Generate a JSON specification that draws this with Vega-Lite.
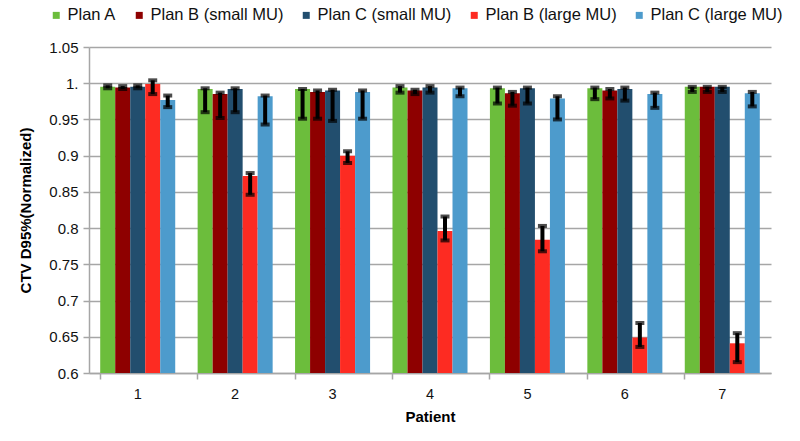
{
  "$schema": "https://vega.github.io/schema/vega-lite/v6.json",
  "width": 682,
  "height": 326,
  "autosize": {"type": "none"},
  "padding": {"left": 89, "top": 47, "right": 29, "bottom": 68},
  "background": "white",
  "config": {"view": {"stroke": null}, "font": "Liberation Sans"},
  "data": {"values": [
    {"patient": "1", "plan": "Plan A", "value": 0.995, "lo": 0.993, "hi": 0.997},
    {"patient": "1", "plan": "Plan B (small MU)", "value": 0.994, "lo": 0.992, "hi": 0.996},
    {"patient": "1", "plan": "Plan C (small MU)", "value": 0.995, "lo": 0.993, "hi": 0.997},
    {"patient": "1", "plan": "Plan B (large MU)", "value": 0.999, "lo": 0.985, "hi": 1.004},
    {"patient": "1", "plan": "Plan C (large MU)", "value": 0.977, "lo": 0.967, "hi": 0.983},
    {"patient": "2", "plan": "Plan A", "value": 0.992, "lo": 0.960, "hi": 0.993},
    {"patient": "2", "plan": "Plan B (small MU)", "value": 0.985, "lo": 0.952, "hi": 0.987},
    {"patient": "2", "plan": "Plan C (small MU)", "value": 0.992, "lo": 0.960, "hi": 0.993},
    {"patient": "2", "plan": "Plan B (large MU)", "value": 0.872, "lo": 0.846, "hi": 0.876},
    {"patient": "2", "plan": "Plan C (large MU)", "value": 0.982, "lo": 0.943, "hi": 0.983},
    {"patient": "3", "plan": "Plan A", "value": 0.992, "lo": 0.951, "hi": 0.992},
    {"patient": "3", "plan": "Plan B (small MU)", "value": 0.988, "lo": 0.951, "hi": 0.990},
    {"patient": "3", "plan": "Plan C (small MU)", "value": 0.990, "lo": 0.948, "hi": 0.991},
    {"patient": "3", "plan": "Plan B (large MU)", "value": 0.900, "lo": 0.890, "hi": 0.906},
    {"patient": "3", "plan": "Plan C (large MU)", "value": 0.988, "lo": 0.951, "hi": 0.990},
    {"patient": "4", "plan": "Plan A", "value": 0.994, "lo": 0.987, "hi": 0.996},
    {"patient": "4", "plan": "Plan B (small MU)", "value": 0.990, "lo": 0.985, "hi": 0.991},
    {"patient": "4", "plan": "Plan C (small MU)", "value": 0.994, "lo": 0.987, "hi": 0.996},
    {"patient": "4", "plan": "Plan B (large MU)", "value": 0.796, "lo": 0.783, "hi": 0.816},
    {"patient": "4", "plan": "Plan C (large MU)", "value": 0.993, "lo": 0.982, "hi": 0.994},
    {"patient": "5", "plan": "Plan A", "value": 0.993, "lo": 0.972, "hi": 0.994},
    {"patient": "5", "plan": "Plan B (small MU)", "value": 0.986, "lo": 0.969, "hi": 0.988},
    {"patient": "5", "plan": "Plan C (small MU)", "value": 0.993, "lo": 0.972, "hi": 0.994},
    {"patient": "5", "plan": "Plan B (large MU)", "value": 0.784, "lo": 0.768, "hi": 0.803},
    {"patient": "5", "plan": "Plan C (large MU)", "value": 0.979, "lo": 0.950, "hi": 0.982},
    {"patient": "6", "plan": "Plan A", "value": 0.993, "lo": 0.978, "hi": 0.994},
    {"patient": "6", "plan": "Plan B (small MU)", "value": 0.990, "lo": 0.979, "hi": 0.992},
    {"patient": "6", "plan": "Plan C (small MU)", "value": 0.992, "lo": 0.976, "hi": 0.994},
    {"patient": "6", "plan": "Plan B (large MU)", "value": 0.649, "lo": 0.636, "hi": 0.669},
    {"patient": "6", "plan": "Plan C (large MU)", "value": 0.985, "lo": 0.966, "hi": 0.987},
    {"patient": "7", "plan": "Plan A", "value": 0.995, "lo": 0.988, "hi": 0.995},
    {"patient": "7", "plan": "Plan B (small MU)", "value": 0.995, "lo": 0.988, "hi": 0.995},
    {"patient": "7", "plan": "Plan C (small MU)", "value": 0.995, "lo": 0.988, "hi": 0.995},
    {"patient": "7", "plan": "Plan B (large MU)", "value": 0.641, "lo": 0.615, "hi": 0.655},
    {"patient": "7", "plan": "Plan C (large MU)", "value": 0.986, "lo": 0.968, "hi": 0.988}
  ]},
  "encoding": {
    "x": {
      "field": "patient", "type": "ordinal",
      "scale": {"paddingInner": 0.23, "paddingOuter": 0.115},
      "axis": {
        "title": "Patient", "titleFontSize": 15, "titleFontWeight": "bold", "titleColor": "#000000", "titlePadding": 9,
        "labelAngle": 0, "labelFontSize": 14.5, "labelColor": "#111111", "labelPadding": 8,
        "bandPosition": 0, "tickSize": 6, "tickColor": "#a6a6a6", "tickWidth": 1.5,
        "domainColor": "#a6a6a6", "domainWidth": 1.5, "grid": false
      }
    },
    "xOffset": {
      "field": "plan", "type": "nominal",
      "scale": {"domain": ["Plan A", "Plan B (small MU)", "Plan C (small MU)", "Plan B (large MU)", "Plan C (large MU)"], "paddingInner": 0, "paddingOuter": 0}
    }
  },
  "layer": [
    {
      "mark": {"type": "bar"},
      "encoding": {
        "y": {
          "field": "value", "type": "quantitative",
          "scale": {"domain": [0.6, 1.05], "zero": false, "nice": false},
          "axis": {
            "title": "CTV D95%(Normalized)", "titleFontSize": 15, "titleFontWeight": "bold", "titleColor": "#000000", "titlePadding": 15,
            "tickCount": 9,
            "labelExpr": "abs(datum.value - 1) < 0.001 ? '1.' : format(datum.value, '.2~f')",
            "labelOverlap": false,
            "labelFontSize": 15, "labelColor": "#111111", "labelPadding": 5,
            "tickSize": 6, "tickColor": "#a6a6a6", "tickWidth": 1.5,
            "domainColor": "#a6a6a6", "domainWidth": 1.5,
            "grid": true, "gridColor": "#a6a6a6", "gridWidth": 1.5
          }
        },
        "y2": {"datum": 0.6},
        "color": {
          "field": "plan", "type": "nominal",
          "scale": {
            "domain": ["Plan A", "Plan B (small MU)", "Plan C (small MU)", "Plan B (large MU)", "Plan C (large MU)"],
            "range": ["#6cbd3c", "#8e0000", "#224e6e", "#fd2b22", "#4d9bcc"]
          },
          "legend": {
            "title": null, "orient": "none", "legendX": -41, "legendY": -40, "direction": "horizontal",
            "symbolType": "square", "symbolSize": 49, "symbolStrokeWidth": 0,
            "labelFontSize": 16.5, "labelColor": "#111111", "columnPadding": 14, "labelOffset": 3
          }
        }
      }
    },
    {
      "mark": {"type": "rule", "strokeWidth": 4, "color": "#000000"},
      "encoding": {
        "y": {"field": "lo", "type": "quantitative"},
        "y2": {"field": "hi"}
      }
    },
    {
      "mark": {"type": "tick", "color": "#000000", "thickness": 4, "size": 9},
      "encoding": {"y": {"field": "lo", "type": "quantitative"}}
    },
    {
      "mark": {"type": "tick", "color": "#000000", "thickness": 4, "size": 9},
      "encoding": {"y": {"field": "hi", "type": "quantitative"}}
    }
  ]
}
